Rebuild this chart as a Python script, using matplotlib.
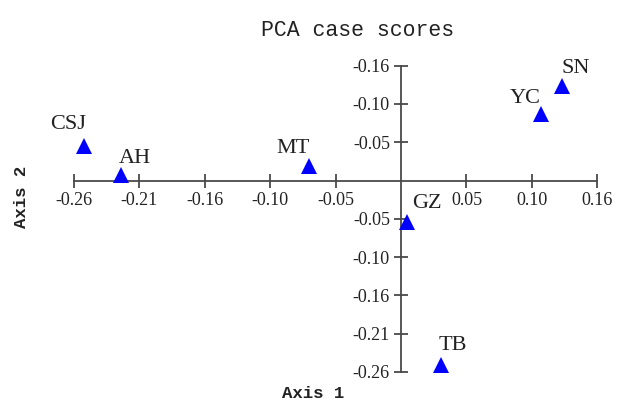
import matplotlib
matplotlib.use("Agg")
import matplotlib.pyplot as plt
import numpy as np

# ---- data ----
sites = ["CSJ", "AH", "MT", "GZ", "YC", "SN", "TB"]
axis1 = [-0.254, -0.2245, -0.0735, 0.005, 0.1125, 0.1294, 0.032]
axis2 = [0.0476, 0.0082, 0.0202, -0.0566, 0.0908, 0.1296, -0.2536]

xtick_vals = [-0.2625, -0.21, -0.1575, -0.105, -0.0525, 0.0525, 0.105, 0.1575]
xtick_labels = ["-0.26", "-0.21", "-0.16", "-0.10", "-0.05", "0.05", "0.10", "0.16"]
ytick_vals = [0.1575, 0.105, 0.0525, -0.0525, -0.105, -0.1575, -0.21, -0.2625]
ytick_labels = ["-0.16", "-0.10", "-0.05", "-0.05", "-0.10", "-0.16", "-0.21", "-0.26"]

title = "PCA case scores"
xlabel = "Axis 1"
ylabel = "Axis 2"

# label offsets (points) relative to markers
label_offsets = {"CSJ": (-11.5, 15.1), "AH": (10, 11.5), "MT": (-11.5, 12.2),
                 "GZ": (14, 13), "YC": (-11.5, 11.2), "SN": (9.4, 12.6),
                 "TB": (8.6, 14.4)}

W, H = 622, 408
fig = plt.figure(figsize=(W / 100, H / 100), dpi=100)
ax = fig.add_axes([0, 0, 1, 1])
ax.patch.set_alpha(0)

# pixel mapping: x zero at 401 px, y zero at 180.5 px
xs, ys = 0.000802, 0.001371
ax.set_xlim(-401 * xs, (W - 401) * xs)
ax.set_ylim(-(H - 180.5) * ys, 180.5 * ys)

axis_col = "#4a4a4a"
for s in ["top", "right"]:
    ax.spines[s].set_visible(False)
ax.spines["left"].set_position(("data", 0))
ax.spines["bottom"].set_position(("data", 0))
for s in ["left", "bottom"]:
    ax.spines[s].set_color(axis_col)
    ax.spines[s].set_linewidth(1.3)
ax.spines["bottom"].set_bounds(-0.2625, 0.1575)
ax.spines["left"].set_bounds(-0.2625, 0.1575)

ax.set_xticks(xtick_vals)
ax.set_xticklabels(xtick_labels)
ax.set_yticks(ytick_vals)
ax.set_yticklabels(ytick_labels)
ax.tick_params(axis="both", direction="inout", length=10, width=1.3,
               color=axis_col, labelsize=13, colors="#222222")
ax.tick_params(axis="x", pad=3)
ax.tick_params(axis="y", pad=3)
for lab in ax.get_xticklabels() + ax.get_yticklabels():
    lab.set_fontfamily("Liberation Serif")
    lab.set_color("#222222")

ax.plot(axis1, axis2, linestyle="none", marker="^", markersize=11.5,
        color="#0000ff", markeredgewidth=0, zorder=5, clip_on=False)

for name, x, y in zip(sites, axis1, axis2):
    dx, dy = label_offsets[name]
    ax.annotate(name, (x, y), xytext=(dx, dy), textcoords="offset points",
                ha="center", va="center", fontsize=16,
                family="Liberation Serif", color="#222222")

fig.text(358 / W, 1 - 30 / H, title, ha="center", va="center",
         fontsize=15.5, family="Liberation Mono", color="#222222")
fig.text(313 / W, 1 - 394 / H, xlabel, ha="center", va="center",
         fontsize=12.5, family="Liberation Mono", fontweight="bold", color="#222222")
fig.text(21 / W, 1 - 197 / H, ylabel, ha="center", va="center", rotation=90,
         fontsize=12.5, family="Liberation Mono", fontweight="bold", color="#222222")

fig.savefig("out.png", dpi=100, facecolor="white")
